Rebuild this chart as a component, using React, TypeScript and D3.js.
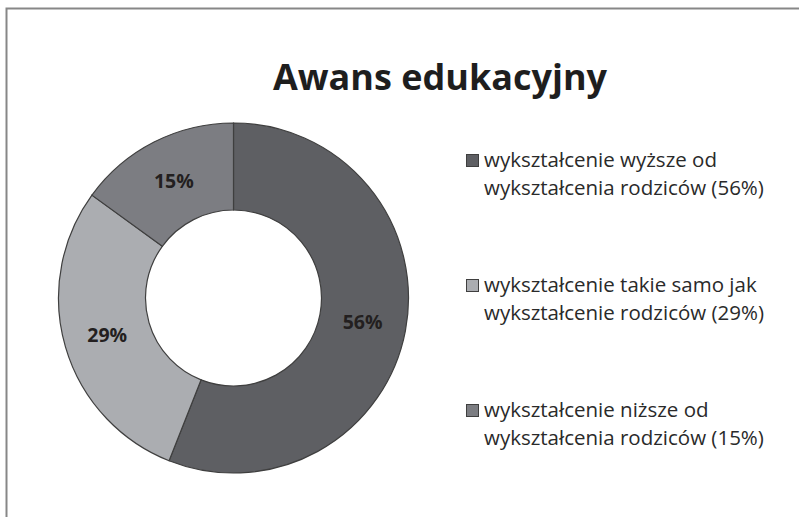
import React from "react";
import * as d3 from "d3";

const categories = [
  ["wykształcenie wyższe od", "wykształcenia rodziców (56%)"],
  ["wykształcenie takie samo jak", "wykształcenie rodziców (29%)"],
  ["wykształcenie niższe od", "wykształcenia rodziców (15%)"],
];
const values = [56, 29, 15];
const labels = ["56%", "29%", "15%"];
const colors = ["#5e5f63", "#abadb1", "#7c7d82"];
const title = "Awans edukacyjny";

const W = 799;
const H = 517;
const cx = 233.5;
const cy = 298;
const rOuter = 175;
const rInner = 88;
const FONT = "'Open Sans', Lato, 'DejaVu Sans', sans-serif";

export default function App() {
  const pie = d3
    .pie<number>()
    .sort(null)
    .value((d) => d)(values);
  const arc = d3.arc<d3.PieArcDatum<number>>().innerRadius(rInner).outerRadius(rOuter);
  const labelArc = d3
    .arc<d3.PieArcDatum<number>>()
    .innerRadius((rInner + rOuter) / 2)
    .outerRadius((rInner + rOuter) / 2);

  const legendY = d3.scalePoint<number>().domain([0, 1, 2]).range([167, 417]);

  return (
    <svg
      width={W}
      height={H}
      style={{ position: "absolute", left: 0, top: 0, background: "#fff" }}
    >
      <rect x={6.5} y={8.5} width={W + 20} height={H + 20} fill="#fff" stroke="#878787" strokeWidth={2} />
      <text
        x={440}
        y={90}
        textAnchor="middle"
        fontFamily={FONT}
        fontWeight={700}
        fontSize={36}
        fill="#1e1e1e"
      >
        {title}
      </text>
      <g transform={`translate(${cx},${cy})`}>
        {pie.map((p, i) => (
          <path key={i} d={arc(p) || ""} fill={colors[i]} stroke="#3f3f3f" strokeWidth={1.2} />
        ))}
        {pie.map((p, i) => {
          const [x, y] = labelArc.centroid(p);
          return (
            <text
              key={i}
              x={x}
              y={y}
              dy="0.35em"
              textAnchor="middle"
              fontFamily={FONT}
              fontWeight={700}
              fontSize={19.5}
              fill="#231f20"
            >
              {labels[i]}
            </text>
          );
        })}
      </g>
      {categories.map((lines, i) => {
        const y = legendY(i) as number;
        return (
          <g key={i}>
            <rect x={466.5} y={y - 12.5} width={12} height={12} fill={colors[i]} stroke="#3f3f3f" strokeWidth={1} />
            {lines.map((t, j) => (
              <text
                key={j}
                x={484}
                y={y + j * 28}
                fontFamily={FONT}
                fontSize={20.5}
                fill="#2a2a2a"
              >
                {t}
              </text>
            ))}
          </g>
        );
      })}
    </svg>
  );
}
